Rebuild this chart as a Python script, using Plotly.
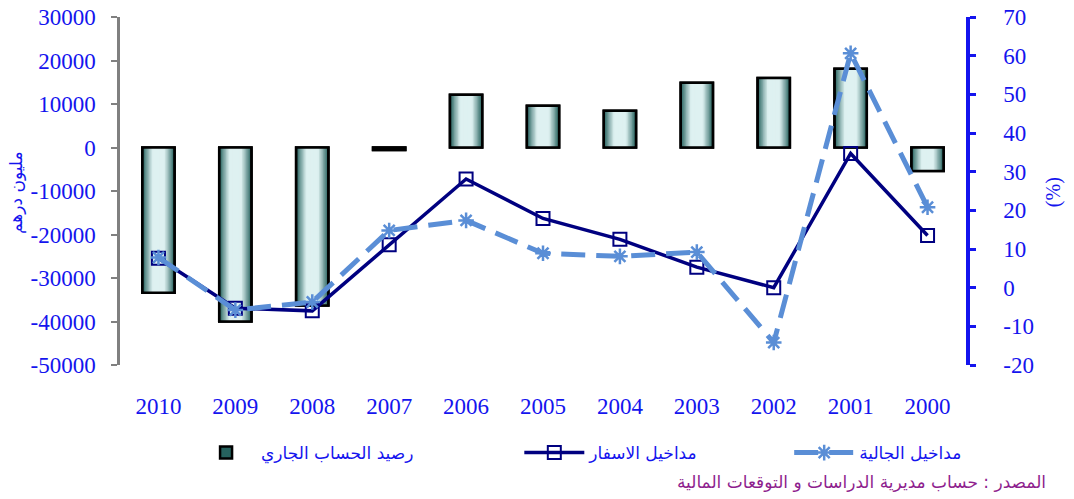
import plotly.graph_objects as go

# ---------------- data ----------------
years = ['2010', '2009', '2008', '2007', '2006', '2005', '2004', '2003', '2002', '2001', '2000']
current_account = [-33400, -40000, -36300, -600, 12100, 9600, 8460, 14900, 16000, 18100, -5400]   # مليون درهم
tourism_receipts = [7.6, -5.3, -6.0, 11.1, 28.1, 17.9, 12.5, 5.3, 0.0, 34.7, 13.5]     # %
remittances = [7.8, -5.8, -3.7, 14.8, 17.4, 8.9, 8.1, 9.2, -14.2, 60.6, 20.8]           # %

left_tick_vals = [-50000, -40000, -30000, -20000, -10000, 0, 10000, 20000, 30000]
left_tick_text = ['-50000', '-40000', '-30000', '-20000', '-10000', '0', '10000', '20000', '30000']
right_tick_vals = [-20, -10, 0, 10, 20, 30, 40, 50, 60, 70]
right_tick_text = ['-20', '-10', '0', '10', '20', '30', '40', '50', '60', '70']

name_bar = 'رصيد الحساب الجاري'
name_tour = 'مداخيل الاسفار'
name_rem = 'مداخيل الجالية'
source_text = 'المصدر : حساب مديرية الدراسات و التوقعات المالية'
left_title = 'مليون درهم'
right_title = '(%)'

# ---------------- style ----------------
BLUE = '#1414EE'
NAVY = '#000080'
LIGHT = '#5A8ED6'
SERIF = 'Liberation Serif'
ARABIC = 'DejaVu Sans'

bar_w = 0.42
n_layers = 12
dark = (38, 98, 94)
light = (222, 241, 241)

fig = go.Figure()

# gradient bars: overlaid bars of decreasing width, dark -> light
for k in range(n_layers):
    t = k / (n_layers - 1)
    f = min(1.0, (t / 0.65)) ** 0.9
    col = tuple(int(dark[i] + (light[i] - dark[i]) * f) for i in range(3))
    w = bar_w * (1 - k / n_layers)
    fig.add_trace(go.Bar(
        x=years, y=current_account, width=w,
        marker=dict(color='rgb(%d,%d,%d)' % col,
                    line=dict(color='black', width=2.5 if k == 0 else 0)),
        name=name_bar, showlegend=(k == 0), legend='legend',
        xaxis='x', yaxis='y', hoverinfo='skip' if k else None,
    ))
# outline on top
fig.add_trace(go.Bar(
    x=years, y=current_account, width=bar_w,
    marker=dict(color='rgba(0,0,0,0)', line=dict(color='black', width=2.5)),
    showlegend=False, hoverinfo='skip', xaxis='x', yaxis='y',
))

fig.add_trace(go.Scatter(
    x=years, y=tourism_receipts, name=name_tour, yaxis='y2', xaxis='x',
    mode='lines+markers', legend='legend2',
    line=dict(color=NAVY, width=3.5),
    marker=dict(symbol='square-open', size=13, color=NAVY, line=dict(width=2, color=NAVY)),
))
fig.add_trace(go.Scatter(
    x=years, y=remittances, name=name_rem, yaxis='y2', xaxis='x',
    mode='lines+markers', legend='legend3',
    line=dict(color=LIGHT, width=5, dash='24px,11px'),
    marker=dict(symbol='asterisk-open', size=13, color=LIGHT, line=dict(width=2.5, color=LIGHT)),
))

y2_min, y2_max = -20, 70
zero_frac = (0 - y2_min) / (y2_max - y2_min)

legend_style = dict(orientation='h', y=-0.253, xanchor='left', yanchor='middle',
                    font=dict(family=ARABIC, size=17, color=BLUE),
                    itemwidth=60, bgcolor='rgba(0,0,0,0)')

fig.update_layout(
    width=1074, height=499,
    margin=dict(l=120, r=108, t=17, b=134, autoexpand=False),
    paper_bgcolor='white', plot_bgcolor='white',
    barmode='overlay',
    showlegend=True,
    legend=dict(x=0.084, **legend_style),
    legend2=dict(x=0.472, **legend_style),
    legend3=dict(x=0.791, **legend_style),
    xaxis=dict(type='category', categoryorder='array', categoryarray=years,
               range=[-0.5, len(years) - 0.5], automargin=False,
               showline=False, ticks='', showgrid=False, zeroline=False,
               tickfont=dict(family=SERIF, size=23, color=BLUE),
               ticklabelstandoff=25),
    yaxis=dict(range=[-50000, 30000], tickvals=left_tick_vals, ticktext=left_tick_text,
               showgrid=False, zeroline=False, automargin=False,
               showline=True, linecolor='#808080', linewidth=2.5,
               ticks='outside', ticklen=6, tickwidth=2, tickcolor='#808080',
               tickfont=dict(family=SERIF, size=23, color=BLUE),
               ticklabelstandoff=11),
    yaxis2=dict(range=[y2_min, y2_max], tickvals=right_tick_vals, ticktext=right_tick_text,
                overlaying='y', side='right', automargin=False,
                showgrid=False, zeroline=False,
                showline=True, linecolor=BLUE, linewidth=3.5,
                ticks='outside', ticklen=6, tickwidth=2.5, tickcolor=BLUE,
                tickfont=dict(family=SERIF, size=23, color=BLUE),
                ticklabelstandoff=23),
    yaxis3=dict(domain=[zero_frac, 1], visible=False, range=[0, 1]),
    xaxis2=dict(anchor='y3', overlaying='x', range=[-0.5, len(years) - 0.5],
                showline=True, linecolor=BLUE, linewidth=3,
                ticks='outside', ticklen=4, tickwidth=2, tickcolor=BLUE,
                tickvals=[i - 0.5 for i in range(len(years) + 1)],
                showticklabels=False, showgrid=False, zeroline=False),
    annotations=[
        dict(text=left_title, xref='paper', yref='paper', x=-0.123, y=0.497,
             xanchor='center', yanchor='middle',
             textangle=-90, showarrow=False, font=dict(family=ARABIC, size=17, color=BLUE)),
        dict(text=right_title, xref='paper', yref='paper', x=1.103, y=0.497,
             xanchor='center', yanchor='middle',
             textangle=-90, showarrow=False, font=dict(family=SERIF, size=20, color=BLUE)),
        dict(text=source_text, xref='paper', yref='paper', x=1.097, y=-0.336,
             xanchor='right', yanchor='middle', showarrow=False,
             font=dict(family=ARABIC, size=17, color='#8E1E8E')),
    ],
)

fig.write_html('out.html', config={'displayModeBar': False},
               post_script="document.body.style.margin='0px';")
